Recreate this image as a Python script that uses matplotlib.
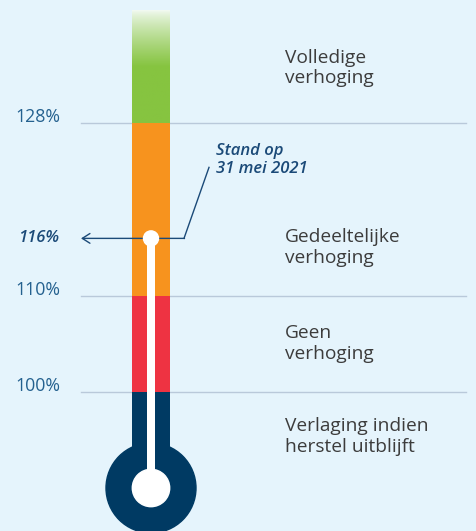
import numpy as np
import matplotlib.pyplot as plt
from matplotlib.patches import Ellipse
from matplotlib.colors import to_rgb

# thresholds (dekkingsgraad, %)
thresholds = [100, 110, 128]
threshold_labels = ['100%', '110%', '128%']
bands_low = [90, 100, 110]          # navy, red, orange segments
bands_high = [100, 110, 128]
band_colors = ['#003a63', '#ee3342', '#f7931e']
green = '#86c440'
tube_top = 139.7
current = 116
current_label = '116%'
annotation = 'Stand op\n31 mei 2021'

zone_labels = [('Volledige', 'verhoging'),
               ('Gedeeltelijke', 'verhoging'),
               ('Geen', 'verhoging'),
               ('Verlaging indien', 'herstel uitblijft')]
zone_label_y = [134.3, 115.6, 105.6, 95.9]

bg = '#e5f4fc'
plt.rcParams['font.family'] = ['Open Sans', 'DejaVu Sans']

fig = plt.figure(figsize=(4.76, 5.31), dpi=100)
fig.patch.set_facecolor(bg)
ax = fig.add_axes([0, 0, 1, 1])
ax.set_facecolor(bg)
ax.set_xlim(0, 476)
ax.set_ylim(85.52, 140.83)
ax.axis('off')

px_per_pct = 9.6
tube_x, tube_w = 151, 38

# horizontal threshold lines + labels
for t, lab in zip(thresholds, threshold_labels):
    ax.plot([81, 466], [t, t], color='#b9c9da', lw=1, zorder=1)
    ax.text(15, t + 0.1, lab, fontsize=12.8, color='#24618f', ha='left', va='baseline')

# tube segments
ax.bar(tube_x, np.array(bands_high) - np.array(bands_low), bottom=bands_low,
       width=tube_w, color=band_colors, zorder=2)

# green gradient segment on top
n = 200
t = np.linspace(0, 1, n)
fade = np.clip(t / 0.5, 0, 1)[:, None] ** 0.8
g = np.array(to_rgb(green))
w = np.array([0.95, 0.98, 0.95])
img = (w * (1 - fade) + g * fade)  # from top (white) to bottom (green)
img = img[::-1][:, None, :]
ax.imshow(img, extent=(tube_x - tube_w / 2, tube_x + tube_w / 2, thresholds[2], tube_top),
          origin='lower', aspect='auto', zorder=2)

# bulb
r_out = 45
r_in = 18.7
ax.add_patch(Ellipse((tube_x, bands_low[0]), 2 * r_out, 2 * r_out / px_per_pct,
                     color=band_colors[0], zorder=3))
ax.add_patch(Ellipse((tube_x, bands_low[0]), 2 * r_in, 2 * r_in / px_per_pct,
                     color='white', zorder=4))
# stem and current level dot
ax.bar(tube_x, current - bands_low[0], bottom=bands_low[0], width=8, color='white', zorder=4)
ax.add_patch(Ellipse((tube_x, current), 15, 15 / px_per_pct, color='white', zorder=5))

# annotation arrow
ann_color = '#1b4a78'
ax.plot([184, 209], [current, current + 71 / px_per_pct], color=ann_color, lw=1, zorder=3)
ax.annotate('', xy=(81, current), xytext=(184.5, current),
            arrowprops=dict(arrowstyle='->, head_length=0.55, head_width=0.35',
                            color=ann_color, lw=1, shrinkA=0, shrinkB=0), zorder=3)
ax.text(18, current, current_label, fontsize=12, color=ann_color, style='italic',
        fontweight='semibold', ha='left', va='center')
ax.text(216, 125.9, annotation, fontsize=12, color=ann_color, style='italic',
        fontweight='semibold', ha='left', va='top', linespacing=1.1)

# zone labels
for (l1, l2), y in zip(zone_labels, zone_label_y):
    ax.text(285, y, l1, fontsize=13.8, color='#3c3c3c', ha='left', va='baseline')
    ax.text(285, y - 20.5 / px_per_pct, l2, fontsize=13.8, color='#3c3c3c', ha='left', va='baseline')

fig.savefig('out.png', dpi=100, facecolor=bg)
